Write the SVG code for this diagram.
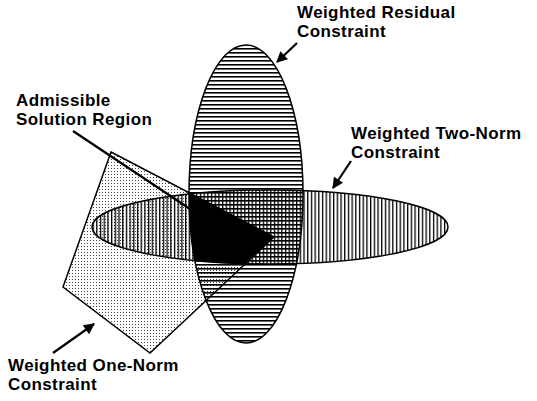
<svg xmlns="http://www.w3.org/2000/svg" width="537" height="401" viewBox="0 0 537 401">
<style>
.lbl{font-family:"Liberation Sans",Arial,Helvetica,sans-serif;font-weight:bold;font-size:17px;letter-spacing:0.4px;fill:#000}
.edge{fill:none;stroke:#000;stroke-width:1.5}
.conn{stroke:#000;stroke-width:2.2;fill:none}
</style>
<defs>
<pattern id="hlines" patternUnits="userSpaceOnUse" width="8" height="4">
<rect x="0" y="0" width="8" height="1.6" fill="#000"/>
</pattern>
<pattern id="vlines" patternUnits="userSpaceOnUse" width="3.7" height="8">
<rect x="0" y="0" width="1.3" height="8" fill="#000"/>
</pattern>
<pattern id="dots" patternUnits="userSpaceOnUse" width="3" height="3">
<rect x="0" y="0" width="1" height="1" fill="#444"/>
</pattern>
<marker id="ah" viewBox="0 0 10 10" refX="9" refY="5" markerWidth="5.5" markerHeight="5" markerUnits="strokeWidth" orient="auto">
<path d="M0,0 L10,5 L0,10 z" fill="#000"/>
</marker>
<clipPath id="cQuad"><polygon points="111,152 274,237 150,353 63,287"/></clipPath>
<clipPath id="cVert"><ellipse cx="246" cy="194" rx="57" ry="149"/></clipPath>
</defs>
<rect width="537" height="401" fill="#fff"/>

<g id="one-norm-constraint">
<polygon points="111,152 274,237 150,353 63,287" fill="url(#dots)"/>
</g>
<g id="residual-constraint">
<ellipse cx="246" cy="194" rx="57" ry="149" fill="url(#hlines)"/>
</g>
<g id="two-norm-constraint">
<ellipse cx="270" cy="227" rx="178" ry="37" fill="url(#vlines)"/>
</g>
<g id="admissible-region">
<g clip-path="url(#cQuad)"><g clip-path="url(#cVert)">
<ellipse cx="270" cy="227" rx="178" ry="37" fill="#000"/>
</g></g>
</g>

<g id="outlines">
<ellipse class="edge" cx="246" cy="194" rx="57" ry="149"/>
<ellipse class="edge" cx="270" cy="227" rx="178" ry="37"/>
<polygon class="edge" points="111,152 274,237 150,353 63,287"/>
</g>

<g id="labels">
<text class="lbl" x="297" y="18">Weighted Residual</text>
<text class="lbl" x="297" y="37">Constraint</text>
<text class="lbl" x="351" y="139">Weighted Two-Norm</text>
<text class="lbl" x="351" y="158">Constraint</text>
<text class="lbl" x="16" y="106">Admissible</text>
<text class="lbl" x="16" y="125">Solution Region</text>
<text class="lbl" x="8" y="371">Weighted One-Norm</text>
<text class="lbl" x="8" y="390">Constraint</text>
</g>

<g id="connectors">
<line class="conn" x1="297" y1="43" x2="277" y2="62" marker-end="url(#ah)"/>
<line class="conn" x1="351" y1="161" x2="333" y2="188" marker-end="url(#ah)"/>
<line class="conn" x1="53" y1="353" x2="94" y2="324" marker-end="url(#ah)"/>
<line class="conn" x1="73" y1="131" x2="214" y2="225"/>
</g>
</svg>
